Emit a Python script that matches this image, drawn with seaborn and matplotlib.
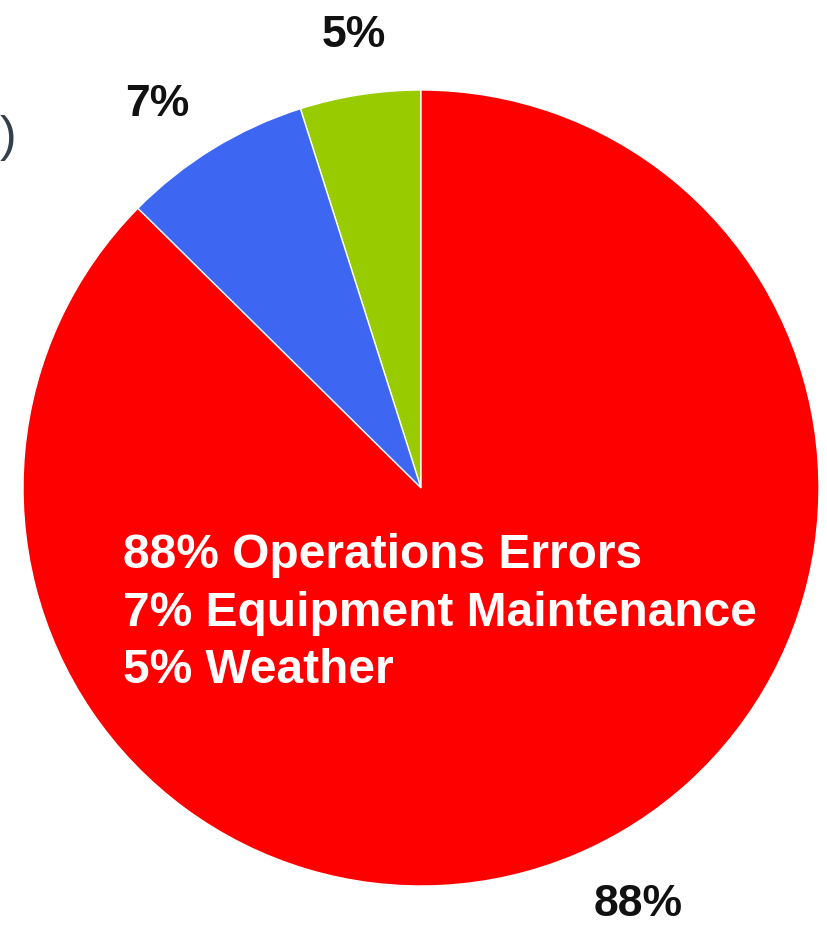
import matplotlib
matplotlib.use("Agg")
import matplotlib.pyplot as plt
import numpy as np
import seaborn as sns

# Dados do gráfico (ordem anti-horária a partir do topo)
categories = ["Weather", "Equipment Maintenance", "Operations Errors"]
shares = [4.9, 7.7, 87.4]          # fatias como aparecem no desenho
share_labels = ["5%", "7%", "88%"]  # rótulos impressos
colors = ["#99CC00", "#3D66F2", "#FF0000"]
legend_lines = ["88% Operations Errors", "7% Equipment Maintenance", "5% Weather"]

sns.set_theme(style="white")
plt.rcParams['font.family'] = ['Liberation Sans', 'DejaVu Sans']

W, H = 828, 926
fig = plt.figure(figsize=(W / 100, H / 100), dpi=100)
fig.patch.set_facecolor("white")

# Pizza: centro (421, 488) px, raio 398 px
cx, cy, r = 421, 488, 398
ax = fig.add_axes([(cx - r) / W, (H - cy - r) / H, 2 * r / W, 2 * r / H])
wedges, texts = ax.pie(
    shares,
    colors=colors,
    startangle=90,
    counterclock=True,
    labels=share_labels,
    labeldistance=1.17,
    wedgeprops=dict(edgecolor="white", linewidth=1),
    textprops=dict(fontsize=32, fontweight="bold", color="#111111"),
)
# ajustes de posição dos rótulos (ângulo, distância)
label_pos = [(98.5, 1.15), (124.5, 1.17), (-62.5, 1.18)]
for t, (ang, dist) in zip(texts, label_pos):
    a = np.deg2rad(ang)
    t.set_position((dist * np.cos(a), dist * np.sin(a)))
    t.set_ha("center")
    t.set_va("center")
ax.set_xlim(-1, 1)
ax.set_ylim(-1, 1)
ax.set_aspect("equal")
ax.axis("off")

# Texto branco com as categorias
for i, line in enumerate(legend_lines):
    fig.text(123 / W, 1 - (568 + 57.5 * i) / H, line, color="white",
             fontsize=34.5, fontweight="bold", ha="left", va="baseline")

# Parêntese cortado na margem esquerda
fig.text(16 / W, 1 - 138 / H, ")", color="#333F4A", fontsize=36,
         ha="right", va="center")

fig.savefig("out.png", dpi=100)
